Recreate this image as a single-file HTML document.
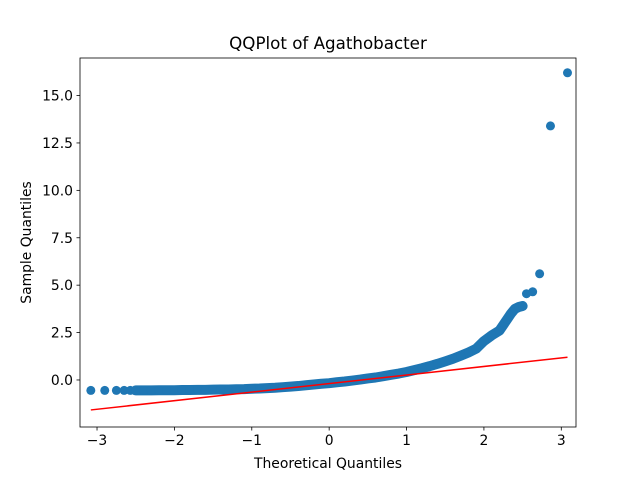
<!DOCTYPE html>
<html><head><meta charset="utf-8"><style>
body{margin:0;background:#fff}
svg text{font-family:"DejaVu Sans","Liberation Sans",sans-serif;fill:#000}
</style></head><body>
<svg id="c" width="640" height="480">
<rect width="640" height="480" fill="#fff"/>
<text x="328" y="49" font-size="16.7" text-anchor="middle">QQPlot of Agathobacter</text>
<text x="328" y="468" font-size="13.9" text-anchor="middle">Theoretical Quantiles</text>
<text transform="translate(31,242.5) rotate(-90)" font-size="13.9" text-anchor="middle">Sample Quantiles</text>
<g id="g"></g>
</svg>
<script>
const xTicks=[-3,-2,-1,0,1,2,3];
const yTicks=[0,2.5,5,7.5,10,12.5,15];
const yTickLabels=["0.0","2.5","5.0","7.5","10.0","12.5","15.0"];
const theoretical=[-3.08,-2.9,-2.75,-2.65,-2.57,-2.5,-2.4,-2.3,-2.2,-2.1,-2.0,-1.9,-1.8,-1.7,-1.6,-1.5,-1.4,-1.3,-1.2,-1.1,-1.0,-0.9,-0.8,-0.7,-0.6,-0.5,-0.4,-0.3,-0.2,-0.1,0.0,0.1,0.2,0.3,0.4,0.5,0.6,0.7,0.8,0.9,1.0,1.1,1.2,1.3,1.4,1.5,1.6,1.7,1.8,1.9,2.0,2.1,2.2,2.3,2.35,2.4,2.45,2.5,2.55,2.63,2.72,2.86,3.08];
const sample=[-0.55,-0.55,-0.55,-0.55,-0.55,-0.55,-0.55,-0.55,-0.54,-0.54,-0.54,-0.53,-0.53,-0.52,-0.52,-0.51,-0.5,-0.5,-0.49,-0.48,-0.46,-0.45,-0.43,-0.41,-0.38,-0.35,-0.32,-0.28,-0.24,-0.2,-0.17,-0.12,-0.08,-0.03,0.02,0.08,0.13,0.2,0.27,0.34,0.42,0.52,0.62,0.73,0.85,0.98,1.12,1.28,1.45,1.65,2.05,2.35,2.6,3.2,3.5,3.75,3.85,3.9,4.55,4.65,5.6,13.4,16.2];
const lineX=[-3.08,3.08];
const lineY=[-1.58,1.2];
const L=80,R=576,T=58,B=427,xmin=-3.22,xmax=3.19,ymin=-2.48,ymax=16.98;
const sx=v=>L+(v-xmin)/(xmax-xmin)*(R-L);
const sy=v=>B-(v-ymin)/(ymax-ymin)*(B-T);
const NS="http://www.w3.org/2000/svg";
const g=document.getElementById('g');
function mk(t,a){const e=document.createElementNS(NS,t);for(const k in a)e.setAttribute(k,a[k]);g.appendChild(e);return e;}
// dense band between consecutive close points
let pts=[];
theoretical.forEach((x,i)=>{if(x>=-2.5&&x<=2.5)pts.push(sx(x)+','+sy(sample[i]));});
const band=mk('polyline',{points:pts.join(' '),fill:'none',stroke:'#1f77b4','stroke-width':10,'stroke-linejoin':'round','stroke-linecap':'round'});


theoretical.forEach((x,i)=>{
 const c=mk('circle',{cx:sx(x),cy:sy(sample[i]),r:4.5,fill:'#1f77b4'});
 
 
});
const ln=mk('line',{x1:sx(lineX[0]),y1:sy(lineY[0]),x2:sx(lineX[1]),y2:sy(lineY[1]),stroke:'#ff0000','stroke-width':1.5});


const fr=mk('rect',{x:L,y:T,width:R-L,height:B-T,fill:'none',stroke:'#000','stroke-width':0.8});


xTicks.forEach(v=>{
 const x=sx(v);
 const t=mk('line',{x1:x,y1:B,x2:x,y2:B+3.5,stroke:'#000','stroke-width':0.8});
 
 
 const tx=mk('text',{x:x,y:B+18,'font-size':13.9,'text-anchor':'middle'});
 tx.textContent=(v<0?'\u2212'+(-v):v);
 
 
});
yTicks.forEach((v,i)=>{
 const y=sy(v);
 const t=mk('line',{x1:L-3.5,y1:y,x2:L,y2:y,stroke:'#000','stroke-width':0.8});
 
 
 const tx=mk('text',{x:L-7,y:y+5,'font-size':13.9,'text-anchor':'end'});
 tx.textContent=yTickLabels[i];
 
 
});
</script>
</body></html>
